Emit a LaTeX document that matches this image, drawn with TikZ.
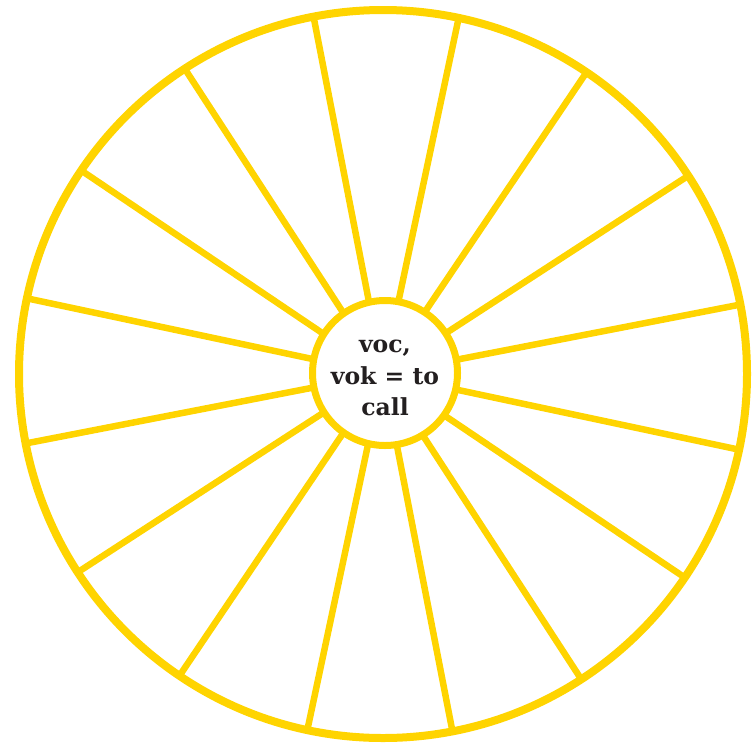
\documentclass[tikz,border=0pt]{standalone}
\usepackage{fontspec}
\setmainfont{DejaVu Serif}
\definecolor{wheelyellow}{RGB}{255,212,0}
\definecolor{inkdark}{RGB}{35,31,32}
\tikzset{
  rimstyle/.style={draw=wheelyellow, line width=8pt, circle, inner sep=0pt, outer sep=0pt},
  hubstyle/.style={draw=wheelyellow, line width=7pt, circle, inner sep=0pt, outer sep=0pt, fill=white},
  labelstyle/.style={text=inkdark, align=center, inner sep=0pt, font=\bfseries\fontsize{23.5}{31.5}\selectfont},
  spokestyle/.style={draw=wheelyellow, line width=6.5pt}
}
\begin{document}
\begin{tikzpicture}[x=1pt,y=-1pt]
\useasboundingbox (0,0) rectangle (754,742);
\node[rimstyle, minimum size=728pt] (rim) at (383,374) {};
\foreach \a in {0,...,15}{
  \pgfmathsetmacro{\ang}{11.25+22.5*\a}
  \draw[spokestyle] (rim.\ang) -- (383,374);
}
\node[hubstyle, minimum size=145pt] (hub) at (385,373) {};
\node[labelstyle] (word) at (385,378) {voc,\\vok = to\\call};
\end{tikzpicture}
\end{document}
